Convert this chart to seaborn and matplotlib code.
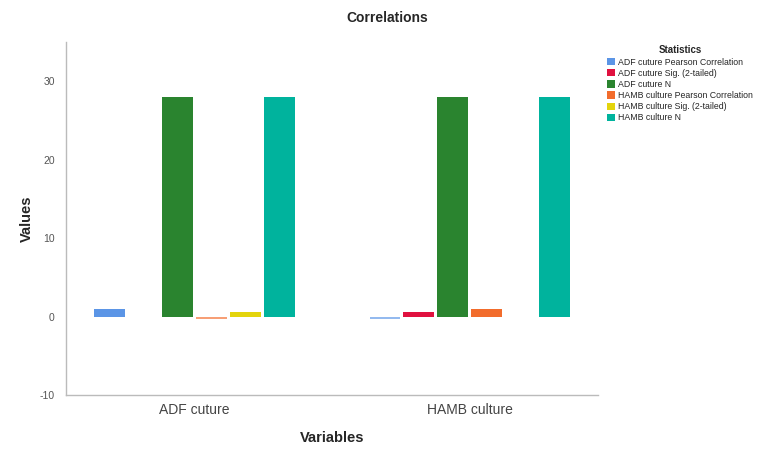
import numpy as np
import pandas as pd
import matplotlib
matplotlib.use("Agg")
import matplotlib.pyplot as plt
import seaborn as sns
from matplotlib.colors import to_rgb

# Data
variables = ["ADF cuture", "HAMB culture"]
statistics = [
    "ADF cuture Pearson Correlation",
    "ADF cuture Sig. (2-tailed)",
    "ADF cuture N",
    "HAMB culture Pearson Correlation",
    "HAMB culture Sig. (2-tailed)",
    "HAMB culture N",
]
adf_values = [1.0, np.nan, 28, -0.3, 0.6, 28]
hamb_values = [-0.3, 0.6, 28, 1.0, np.nan, 28]
colors = ["#5B95E6", "#E0113F", "#2A842F", "#F26C2C", "#E3D40C", "#00B39D"]

rows = []
for var, vals in zip(variables, [adf_values, hamb_values]):
    for stat, v in zip(statistics, vals):
        rows.append({"Variables": var, "Statistics": stat, "Values": v})
df = pd.DataFrame(rows)

sns.set_style("white")
plt.rcParams["font.family"] = ["Liberation Sans", "DejaVu Sans"]
plt.rcParams["axes.unicode_minus"] = False

fig = plt.figure(figsize=(7.74, 4.5), dpi=100)
ax = fig.add_axes([0.085, 0.122, 0.688, 0.785])

sns.barplot(data=df, x="Variables", y="Values", hue="Statistics",
            hue_order=statistics, palette=colors, width=0.74, ax=ax,
            errorbar=None, saturation=1, legend=True, linewidth=0)

# small gap between bars, lighter shade for negative bars
for p in ax.patches:
    w = p.get_width()
    p.set_x(p.get_x() + w * 0.05)
    p.set_width(w * 0.9)
    if p.get_height() < 0:
        r, g, b = to_rgb(p.get_facecolor())
        p.set_facecolor((r + (1 - r) * 0.35, g + (1 - g) * 0.35, b + (1 - b) * 0.35))

ax.set_ylim(-10, 35)
ax.set_xlim(-0.467, 1.467)
ax.set_yticks([-10, 0, 10, 20, 30])
ax.tick_params(axis="both", length=0)
ax.tick_params(axis="y", labelsize=7.5, colors="#555555", pad=8)
ax.tick_params(axis="x", labelsize=10, colors="#444444", pad=6)
for s in ["top", "right"]:
    ax.spines[s].set_visible(False)
for s in ["left", "bottom"]:
    ax.spines[s].set_color("#BBBBBB")
    ax.spines[s].set_linewidth(1)

ax.set_xlabel("Variables", fontsize=10.5, fontweight="bold", labelpad=10)
ax.set_ylabel("Values", fontsize=10.5, fontweight="bold", labelpad=4)
fig.text(0.5, 0.95, "Correlations", ha="center", fontsize=10, fontweight="bold")

leg = ax.legend(title="Statistics", loc="upper left", bbox_to_anchor=(1.01, 1.0),
                frameon=False, fontsize=6.3, title_fontsize=7, handlelength=0.9,
                handleheight=0.9, handletextpad=0.3, labelspacing=0.25, borderaxespad=0)
leg.get_title().set_fontweight("bold")

fig.savefig("out.png", dpi=100)
